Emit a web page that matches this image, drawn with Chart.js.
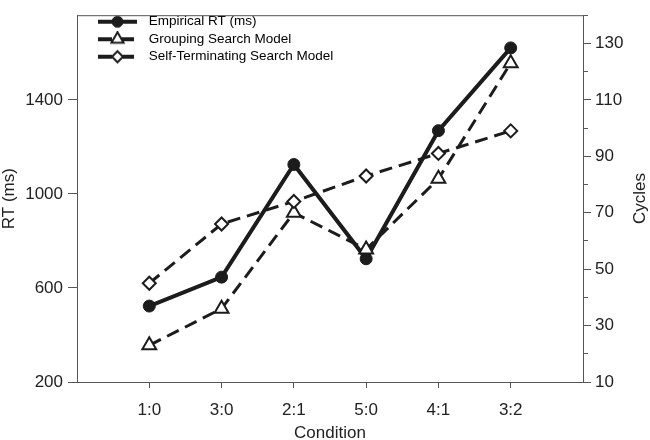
<!DOCTYPE html>
<html lang="en">
<head>
  <meta charset="UTF-8">
  <title>RT and Cycles by Condition</title>
  <script src="https://cdn.jsdelivr.net/npm/chart.js"></script>
  <style>
    body { margin: 0; background: #fff; }
    #rtChart { display: block; }
  </style>
</head>
<body>
  <canvas id="rtChart" width="650" height="440"></canvas>

  <script>
    const categories = ['1:0', '3:0', '2:1', '5:0', '4:1', '3:2'];
    const empiricalRT = [523, 646, 1125, 724, 1269, 1621];
    const groupingCycles = [23, 36, 70, 57, 82, 123];
    const selfTermCycles = [45, 66, 74, 83, 91, 99];
    const rtTicks = [200, 600, 1000, 1400];
    const cycleTicks = [10, 30, 50, 70, 90, 110, 130];

    const FONT = 'Liberation Sans, Arial, Helvetica, sans-serif';
    const INK = '#1c1c1c';
    const AXIS = '#555';

    const toPoints = (arr) => arr.map((v, i) => ({ x: i + 1, y: v }));

    const datasets = [
      {
        label: 'Empirical RT (ms)',
        data: toPoints(empiricalRT),
        yAxisID: 'y',
        borderColor: INK,
        borderWidth: 4,
        pointStyle: 'circle',
        pointRadius: 6,
        pointBackgroundColor: INK,
        pointBorderColor: INK,
        pointBorderWidth: 1,
        order: 3
      },
      {
        label: 'Grouping Search Model',
        data: toPoints(groupingCycles),
        yAxisID: 'y1',
        borderColor: INK,
        borderWidth: 3,
        borderDash: [13, 7],
        pointStyle: 'triangle',
        pointRadius: 8,
        pointBackgroundColor: '#fff',
        pointBorderColor: INK,
        pointBorderWidth: 2,
        order: 2
      },
      {
        label: 'Self-Terminating Search Model',
        data: toPoints(selfTermCycles),
        yAxisID: 'y1',
        borderColor: INK,
        borderWidth: 3,
        borderDash: [13, 7],
        pointStyle: 'rectRot',
        pointRadius: 6.5,
        pointBackgroundColor: '#fff',
        pointBorderColor: INK,
        pointBorderWidth: 2,
        order: 1
      }
    ];

    // little "line + marker" pictures for the legend
    function makeIcon(ds) {
      const c = document.createElement('canvas');
      c.width = 61;
      c.height = 16;
      const g = c.getContext('2d');
      g.strokeStyle = ds.borderColor;
      g.lineWidth = 4;
      g.setLineDash(ds.borderDash ? [14, 8] : []);
      g.beginPath();
      g.moveTo(17, 8);
      g.lineTo(56, 8);
      g.stroke();
      g.setLineDash([]);
      g.fillStyle = ds.pointBackgroundColor;
      g.strokeStyle = ds.pointBorderColor;
      g.lineWidth = ds.pointBorderWidth;
      Chart.helpers.drawPoint(g, {
        pointStyle: ds.pointStyle,
        radius: ds.pointStyle === 'circle' ? 5.5 : ds.pointRadius - 1,
        rotation: 0,
        borderWidth: ds.pointBorderWidth
      }, 36.5, 8);
      return c;
    }
    const icons = datasets.map(makeIcon);

    // top edge of the frame and the right-hand title (reads bottom to top)
    const frameAndTitle = {
      id: 'frameAndTitle',
      beforeDatasetsDraw(chart) {
        const { ctx, chartArea } = chart;
        ctx.save();
        ctx.strokeStyle = AXIS;
        ctx.lineWidth = 1;
        ctx.beginPath();
        ctx.moveTo(chartArea.left, chartArea.top + 0.5);
        ctx.lineTo(chartArea.right, chartArea.top + 0.5);
        ctx.stroke();
        ctx.restore();
      },
      afterDraw(chart) {
        const { ctx, chartArea } = chart;
        ctx.save();
        ctx.translate(640, (chartArea.top + chartArea.bottom) / 2);
        ctx.rotate(-Math.PI / 2);
        ctx.fillStyle = '#222';
        ctx.font = '17px ' + FONT;
        ctx.textAlign = 'center';
        ctx.textBaseline = 'middle';
        ctx.fillText('Cycles', 0, 0);
        ctx.restore();
      }
    };

    const rtChart = new Chart(document.getElementById('rtChart').getContext('2d'), {
      type: 'line',
      data: { datasets: datasets },
      plugins: [frameAndTitle],
      options: {
        responsive: false,
        animation: false,
        devicePixelRatio: 1,
        layout: { padding: { top: 1 } },
        elements: { line: { tension: 0 } },
        plugins: {
          tooltip: { enabled: false },
          legend: {
            position: 'chartArea',
            align: 'start',
            title: {
              display: true,
              text: '',
              padding: { top: 10, bottom: 0 },
              font: { size: 1, lineHeight: 1 }
            },
            labels: {
              usePointStyle: true,
              pointStyleWidth: 61,
              padding: 4,
              color: '#000',
              font: { family: FONT, size: 13.5 },
              generateLabels: (chart) => chart.data.datasets.map((ds, i) => ({
                text: ds.label,
                pointStyle: icons[i],
                datasetIndex: i,
                hidden: false,
                fontColor: '#000',
                lineWidth: 0,
                fillStyle: 'transparent',
                strokeStyle: 'transparent'
              }))
            }
          }
        },
        scales: {
          x: {
            type: 'linear',
            min: 0,
            max: 7,
            afterFit: (s) => { s.height = 58; },
            border: { color: AXIS },
            grid: {
              drawOnChartArea: false,
              tickLength: 6,
              tickColor: (ctx) => (ctx.tick && categories[ctx.tick.value - 1]) ? AXIS : 'rgba(0,0,0,0)'
            },
            ticks: {
              stepSize: 1,
              padding: 12,
              autoSkip: false,
              maxRotation: 0,
              color: '#222',
              font: { family: FONT, size: 17 },
              callback: (v) => categories[v - 1] || ''
            },
            title: {
              display: true,
              text: 'Condition',
              color: '#222',
              padding: { top: 0, bottom: -2 },
              font: { family: FONT, size: 17, lineHeight: 1 }
            }
          },
          y: {
            position: 'left',
            min: 200,
            max: 1760,
            afterFit: (s) => { s.width = 77; },
            afterBuildTicks: (s) => { s.ticks = rtTicks.map((v) => ({ value: v })); },
            border: { color: AXIS },
            grid: { drawOnChartArea: false, tickLength: 9, tickColor: AXIS },
            ticks: {
              padding: 5,
              color: '#222',
              font: { family: FONT, size: 17 },
              callback: (v) => String(v)
            },
            title: {
              display: true,
              text: 'RT (ms)',
              color: '#222',
              padding: { top: 1, bottom: 0 },
              font: { family: FONT, size: 17, lineHeight: 1 }
            }
          },
          y1: {
            position: 'right',
            min: 10,
            max: 140,
            afterFit: (s) => { s.width = 67; },
            border: { color: AXIS },
            grid: {
              drawOnChartArea: false,
              tickLength: 8,
              tickColor: AXIS,
              tickBorderDash: (ctx) => (ctx.tick && cycleTicks.includes(ctx.tick.value)) ? [] : [4, 40]
            },
            ticks: {
              stepSize: 10,
              autoSkip: false,
              padding: 4,
              color: '#222',
              font: { family: FONT, size: 17 },
              callback: (v) => cycleTicks.includes(v) ? String(v) : ''
            },
            title: { display: false }
          }
        }
      }
    });
  </script>
</body>
</html>
